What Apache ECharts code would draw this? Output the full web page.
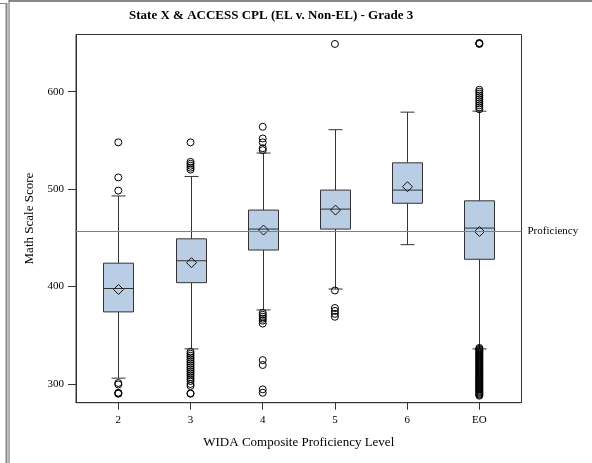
<!DOCTYPE html>
<html>
<head>
<meta charset="utf-8">
<script src="https://cdn.jsdelivr.net/npm/echarts@6/dist/echarts.min.js"></script>
<style>
html,body{margin:0;padding:0;background:#fff;}
#chart{width:592px;height:463px;}
</style>
</head>
<body>
<div id="chart"></div>
<script>
const categories = ['2', '3', '4', '5', '6', 'EO'];
const lowWhisker = [306, 336, 376, 397.5, 443, 336];
const q1 = [374, 404, 437.5, 459, 485.5, 428];
const median = [398, 426.5, 459, 479.5, 499, 460];
const q3 = [424, 449, 478.5, 499, 527, 488];
const highWhisker = [493, 513, 537, 561, 579, 580];
const means = [397, 424.5, 458, 478.5, 502.5, 456.5];
const proficiency = 457;
const yTicks = [300, 400, 500, 600];

const outliers2 = [548, 512, 498.5, 301, 299.5, 291, 290.5, 290];
const outliers3 = [548, 528, 526, 524, 522, 520, 333, 331, 329, 327, 325, 323, 321, 319, 317, 315, 313, 311, 309, 307, 305, 303, 300, 298, 290.5, 290];
const outliers4 = [564, 552, 548, 542, 540, 373, 371, 369, 367, 365, 362, 324.5, 319.5, 294.5, 291];
const outliers5 = [649, 396, 378, 375, 372, 369];
const outliers6 = [];
const outliersEO = [650, 649.5, 649, 602, 600, 598, 596, 594, 592, 590, 588, 586, 584, 582,
  337, 336, 335, 334, 333, 332, 331, 330, 329, 328, 327, 326, 325, 324, 323, 322, 321, 320,
  319, 318, 317, 316, 315, 314, 313, 312, 311, 310, 309, 308, 307, 306, 305, 304, 303, 302,
  301, 300, 299, 298, 297, 296, 295, 294, 293, 292, 291, 290, 289, 288];
const outlierGroups = [outliers2, outliers3, outliers4, outliers5, outliers6, outliersEO];

const boxData = categories.map((c, i) => [i, lowWhisker[i], q1[i], median[i], q3[i], highWhisker[i], means[i]]);
const outlierData = [];
outlierGroups.forEach((g, i) => g.forEach(v => outlierData.push([i, v])));

const serif = '"Liberation Serif", "Times New Roman", serif';
const lineC = '#333';

function renderBox(params, api) {
  const i = api.value(0);
  const lo = api.coord([i, api.value(1)]);
  const a = api.coord([i, api.value(2)]);
  const m = api.coord([i, api.value(3)]);
  const b = api.coord([i, api.value(4)]);
  const hi = api.coord([i, api.value(5)]);
  const mn = api.coord([i, api.value(6)]);
  const x = Math.round(lo[0]) + 0.5;
  const hw = 15, cw = 7, d = 5;
  const st = { stroke: lineC, lineWidth: 1, fill: null };
  return {
    type: 'group',
    children: [
      { type: 'line', shape: { x1: x, y1: hi[1], x2: x, y2: b[1] }, style: st },
      { type: 'line', shape: { x1: x, y1: a[1], x2: x, y2: lo[1] }, style: st },
      { type: 'line', shape: { x1: x - cw, y1: hi[1], x2: x + cw, y2: hi[1] }, style: st },
      { type: 'line', shape: { x1: x - cw, y1: lo[1], x2: x + cw, y2: lo[1] }, style: st },
      { type: 'rect', shape: { x: x - hw, y: b[1], width: 2 * hw, height: a[1] - b[1] },
        style: { fill: '#B9CDE5', stroke: lineC, lineWidth: 1 } },
      { type: 'line', shape: { x1: x - hw, y1: m[1], x2: x + hw, y2: m[1] }, style: st },
      { type: 'polygon', shape: { points: [[x, mn[1] - d], [x + d, mn[1]], [x, mn[1] + d], [x - d, mn[1]]] },
        style: { fill: null, stroke: '#111', lineWidth: 1 } }
    ]
  };
}

const chart = echarts.init(document.getElementById('chart'), null, { renderer: 'canvas' });
chart.setOption({
  animation: false,
  backgroundColor: '#fff',
  graphic: [
    { type: 'line', shape: { x1: 9, y1: 1, x2: 592, y2: 1 }, style: { stroke: '#888', lineWidth: 2 } },
    { type: 'line', shape: { x1: 0, y1: 3.5, x2: 6, y2: 3.5 }, style: { stroke: '#888', lineWidth: 1 } },
    { type: 'line', shape: { x1: 6.5, y1: 3, x2: 6.5, y2: 463 }, style: { stroke: '#888', lineWidth: 2 } },
    { type: 'line', shape: { x1: 9, y1: 0, x2: 9, y2: 463 }, style: { stroke: '#666', lineWidth: 1 } },
    { type: 'text', left: 271 - 142, top: 9,
      style: { text: 'State X & ACCESS CPL (EL v. Non-EL) - Grade 3', font: 'bold 13px ' + serif, fill: '#000' } }
  ],
  grid: { left: 76, right: 70.5, top: 34.5, bottom: 60.3, show: true, borderColor: lineC, borderWidth: 1, backgroundColor: 'transparent' },
  xAxis: {
    type: 'value', min: -0.586, max: 5.584,
    name: 'WIDA Composite Proficiency Level', nameLocation: 'middle', nameGap: 33,
    nameTextStyle: { fontFamily: serif, fontSize: 13, color: '#000' },
    axisLine: { show: true, onZero: false, lineStyle: { color: lineC } },
    axisTick: { show: true, length: 7, lineStyle: { color: lineC }, customValues: [0, 1, 2, 3, 4, 5] },
    axisLabel: { customValues: [0, 1, 2, 3, 4, 5], formatter: v => categories[Math.round(v)], margin: 12,
      fontFamily: serif, fontSize: 11, color: '#000' },
    splitLine: { show: false }
  },
  yAxis: {
    type: 'value', min: 280.8, max: 658.7,
    name: 'Math Scale Score', nameLocation: 'middle', nameGap: 40, nameRotate: 90,
    nameTextStyle: { fontFamily: serif, fontSize: 13, color: '#000' },
    axisLine: { show: true, onZero: false, lineStyle: { color: lineC } },
    axisTick: { show: true, length: 8, lineStyle: { color: lineC }, customValues: yTicks },
    axisLabel: { customValues: yTicks, margin: 12, fontFamily: serif, fontSize: 11, color: '#000' },
    splitLine: { show: false }
  },
  series: [
    {
      type: 'custom', renderItem: renderBox, data: boxData, silent: true,
      encode: { x: 0, y: [1, 2, 3, 4, 5, 6] },
      markLine: {
        silent: true, symbol: 'none',
        lineStyle: { color: '#808080', type: 'solid', width: 1 },
        label: { show: true, position: 'end', formatter: 'Proficiency', distance: 6,
          fontFamily: serif, fontSize: 11, color: '#000' },
        data: [{ yAxis: proficiency }]
      },
      z: 2
    },
    {
      type: 'scatter', data: outlierData, symbol: 'circle', symbolSize: 7, silent: true,
      itemStyle: { color: 'rgba(255,255,255,0)', borderColor: '#000', borderWidth: 1, opacity: 1 },
      z: 3
    }
  ]
});
</script>
</body>
</html>
